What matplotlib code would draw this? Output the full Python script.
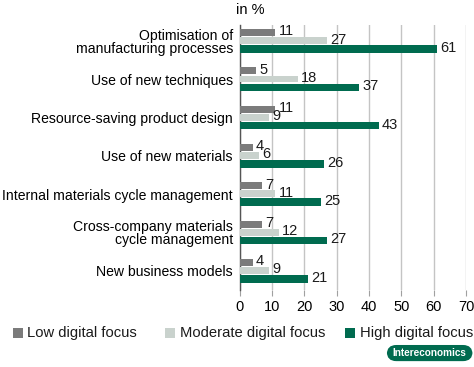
import numpy as np
import matplotlib
matplotlib.use("Agg")
from matplotlib import pyplot as plt
from matplotlib.patches import FancyBboxPatch, Rectangle

categories = ["Optimisation of\nmanufacturing processes",
              "Use of new techniques",
              "Resource-saving product design",
              "Use of new materials",
              "Internal materials cycle management",
              "Cross-company materials\ncycle management",
              "New business models"]
low = [11, 5, 11, 4, 7, 7, 4]
moderate = [27, 18, 9, 6, 11, 12, 9]
high = [61, 37, 43, 26, 25, 27, 21]
series_names = ["Low digital focus", "Moderate digital focus", "High digital focus"]
xticks = [0, 10, 20, 30, 40, 50, 60, 70]

colors = ["#7b7b7b", "#c9d2cd", "#006b4f"]
plt.rcParams['font.family'] = ['Liberation Sans', 'DejaVu Sans']

fig = plt.figure(figsize=(4.74, 3.67), dpi=100)
ax = fig.add_axes([0.506, 0.21, 0.477, 0.722])

y = np.arange(len(categories))
offsets = [-0.22, -0.01, 0.21]
heights = [0.18, 0.18, 0.2]
for vals, off, h, c in zip([low, moderate, high], offsets, heights, colors):
    ax.barh(y + off, vals, height=h, color=c, zorder=3)
    for yy, v in zip(y, vals):
        ax.text(v + 1.0, yy + off - 0.03, str(v), va='center', ha='left',
                fontsize=10.5, color='#1a1a1a', zorder=4)

ax.set_xlim(0, 70)
ax.set_ylim(6.5, -0.42)
ax.set_xticks(xticks)
ax.set_xticklabels([str(t) for t in xticks], fontsize=10.5)
ax.set_yticks(y)
ax.set_yticklabels(categories, fontsize=10.1, linespacing=0.95)
ax.tick_params(axis='y', length=0, pad=5)
ax.tick_params(axis='x', length=4, color='#a0a0a0', pad=3)
ax.grid(axis='x', color='#c4c4c4', linewidth=1.0, zorder=0)
for s in ['top', 'right', 'bottom']:
    ax.spines[s].set_visible(False)
ax.spines['left'].set_color('#555555')
ax.spines['left'].set_linewidth(1.0)
for lbl in ax.get_yticklabels():
    lbl.set_multialignment('right')

fig.text(0.497, 0.955, "in %", fontsize=10.5, ha='left', va='bottom')

# legend
leg_x = [0.027, 0.348, 0.728]
for lx, c, name in zip(leg_x, colors, series_names):
    fig.patches.append(Rectangle((lx, 0.079), 0.021, 0.027, transform=fig.transFigure,
                                 facecolor=c, edgecolor='none', figure=fig))
    fig.text(lx + 0.031, 0.092, name, fontsize=10.6, va='center', ha='left', color='#1a1a1a')

# badge
badge = FancyBboxPatch((0.816, 0.016), 0.181, 0.044, boxstyle="round,pad=0,rounding_size=0.02",
                       transform=fig.transFigure, facecolor='#006b4f', edgecolor='none',
                       figure=fig, mutation_aspect=1.29)
fig.patches.append(badge)
fig.text(0.906, 0.039, "Intereconomics", fontsize=7.2, fontweight='bold', color='white',
         ha='center', va='center')

fig.savefig("out.png", dpi=100)
